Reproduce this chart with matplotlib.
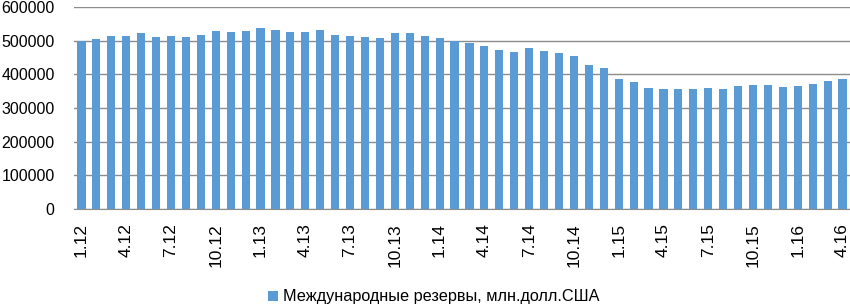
import matplotlib
matplotlib.use("Agg")
import matplotlib.pyplot as plt
import numpy as np

plt.rcParams['font.family'] = ['Liberation Sans', 'DejaVu Sans']

months = [f"{m}.{y}" for y in range(12, 17) for m in range(1, 13)][:52]
reserves = [500000, 504000, 513000, 513000, 523000, 511000, 514000, 511000, 516000, 529000,
            527000, 528000, 537000, 532000, 526000, 527000, 532000, 518000, 513000, 512000,
            509000, 523000, 524000, 515000, 508000, 500000, 492000, 485000, 472000, 467000,
            477000, 469000, 464000, 453000, 429000, 418000, 385000, 376000, 359000, 355000,
            355000, 355000, 360000, 356000, 364000, 369000, 368000, 363000, 366000, 370000,
            379000, 386000]
series_name = "Международные резервы, млн.долл.США"
yticks = [0, 100000, 200000, 300000, 400000, 500000, 600000]

fig = plt.figure(figsize=(8.5, 3.08), dpi=100)
ax = fig.add_axes([74/850, 99/308, 776/850, 202/308])
x = np.arange(len(reserves))
ax.bar(x, reserves, width=0.55, color='#5B9BD5', label=series_name, zorder=3)
ax.set_xlim(-0.5, len(reserves) - 0.5)
ax.set_ylim(0, 600000)
ax.set_yticks(yticks)
ax.set_yticklabels([str(v) for v in yticks], fontsize=11.5)
ax.yaxis.grid(True, color='#8C8C8C', linewidth=1.0, zorder=0)
ax.set_xticks(x[::3])
ax.set_xticklabels(months[::3], rotation=90, fontsize=12.5, va='top')
ax.tick_params(axis='both', length=0)
ax.tick_params(axis='x', pad=10)
ax.tick_params(axis='y', pad=14)
for s in ['top', 'right', 'left']:
    ax.spines[s].set_visible(False)
ax.spines['bottom'].set_color('#8C8C8C')
ax.spines['bottom'].set_zorder(4)

leg = fig.legend(loc='center', bbox_to_anchor=(434/850, 1 - 297/308), frameon=False,
                 fontsize=11.7, handlelength=0.6, handleheight=0.6, handletextpad=0.3)
fig.savefig('out.png', dpi=100)
